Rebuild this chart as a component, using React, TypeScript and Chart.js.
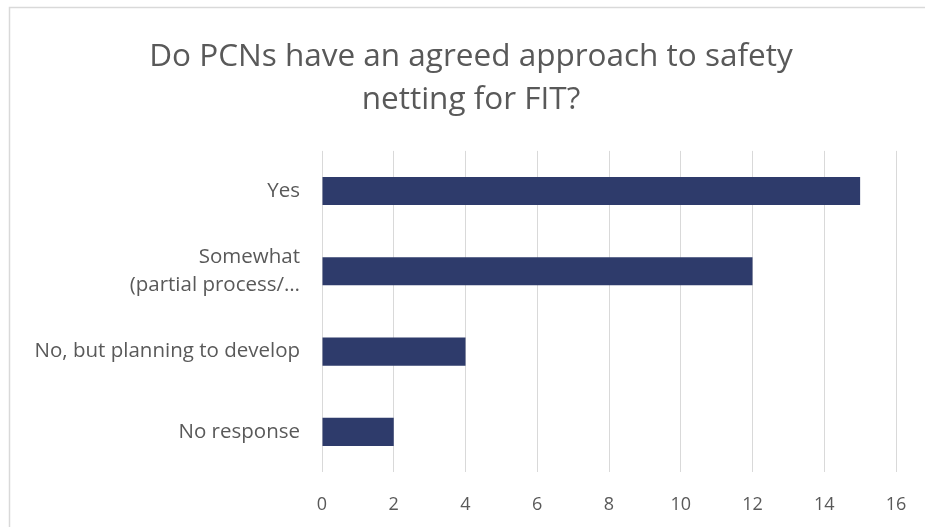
import React, { useEffect, useRef } from "react";
import { Chart, registerables } from "chart.js";

Chart.register(...registerables);

const titleLines = ["Do PCNs have an agreed approach to safety", "netting for FIT?"];
const categories: (string | string[])[] = [
  "Yes",
  ["Somewhat", "(partial process/…"],
  "No, but planning to develop",
  "No response",
];
const values = [15, 12, 4, 2];
const xMin = 0;
const xMax = 16;
const xStep = 2;

const FONT = "'Open Sans', 'Liberation Sans', sans-serif";
const TEXT = "#595959";
const GRID = "#d9d9d9";
const BAR = "#2e3b6b";

const frame = {
  id: "frame",
  beforeDraw(chart: any) {
    const { ctx, width, height } = chart;
    ctx.save();
    ctx.fillStyle = "#ffffff";
    ctx.fillRect(0, 0, width, height);
    ctx.strokeStyle = GRID;
    ctx.lineWidth = 1.5;
    ctx.beginPath();
    ctx.moveTo(9.5, height);
    ctx.lineTo(9.5, 7.5);
    ctx.lineTo(width, 7.5);
    ctx.stroke();
    ctx.restore();
  },
};

export default function App() {
  const ref = useRef<HTMLCanvasElement>(null);
  useEffect(() => {
    if (!ref.current) return;
    const chart = new Chart(ref.current, {
      type: "bar",
      data: {
        labels: categories,
        datasets: [
          {
            data: values,
            backgroundColor: BAR,
            barPercentage: 0.35,
            categoryPercentage: 1,
          },
        ],
      },
      options: {
        indexAxis: "y",
        animation: false,
        responsive: false,
        maintainAspectRatio: false,
        layout: { padding: { left: 20, right: 3, top: 0, bottom: 0 } },
        plugins: {
          legend: { display: false },
          tooltip: { enabled: false },
          title: {
            display: true,
            text: titleLines,
            color: TEXT,
            font: { family: FONT, size: 31.5, weight: "normal", lineHeight: 1.36 },
            padding: { top: 35.6, bottom: 29.6 },
          },
        },
        scales: {
          x: {
            min: xMin,
            max: xMax,
            ticks: {
              stepSize: xStep,
              color: TEXT,
              font: { family: FONT, size: 18 },
              padding: 22,
            },
            grid: { color: GRID, lineWidth: 1, drawTicks: false },
            border: { display: false },
            afterFit(scale: any) {
              scale.height = 55;
              scale.paddingLeft = 0;
              scale.paddingRight = 29;
            },
          },
          y: {
            ticks: {
              color: TEXT,
              font: { family: FONT, size: 20.5, lineHeight: 1.37 },
              padding: 22,
            },
            grid: { display: false, drawTicks: false },
            border: { display: false },
            afterFit(scale: any) {
              scale.width = 302;
            },
          },
        },
      },
      plugins: [frame],
    });
    return () => chart.destroy();
  }, []);
  return (
    <div style={{ position: "fixed", left: 0, top: 0, width: 925, height: 527 }}>
      <canvas ref={ref} width={925} height={527} style={{ width: 925, height: 527 }} />
    </div>
  );
}
